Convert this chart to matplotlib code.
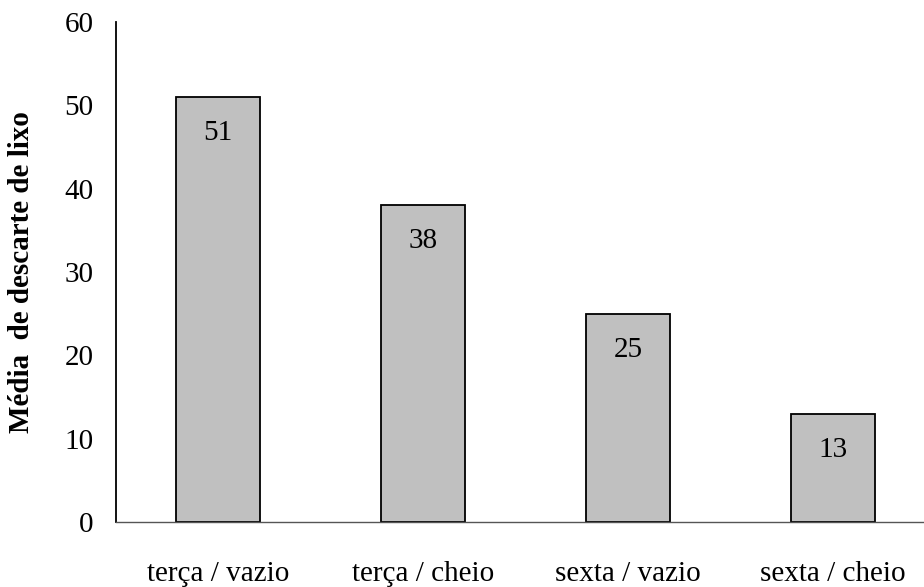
import matplotlib
matplotlib.use("Agg")
import matplotlib.pyplot as plt

categories = ["terça / vazio", "terça / cheio", "sexta / vazio", "sexta / cheio"]
values = [51, 38, 25, 13]
yticks = [0, 10, 20, 30, 40, 50, 60]

plt.rcParams["font.family"] = ["Liberation Serif", "DejaVu Serif"]

fig = plt.figure(figsize=(9.24, 5.87), dpi=100)
ax = fig.add_axes([115.5 / 924, (587 - 522) / 587, 820 / 924, 500 / 587])

x = list(range(len(categories)))
ax.bar(x, values, width=0.41, color="#c0c0c0", edgecolor="black", linewidth=1.3, zorder=2)

for xi, v in zip(x, values):
    ax.annotate(str(v), (xi, v), xytext=(0, -26), textcoords="offset points",
                ha="center", va="center", fontsize=21, color="black")

ax.set_xlim(-0.5, 3.5)
ax.set_ylim(0, 60)
ax.set_yticks(yticks)
ax.set_yticklabels([str(t) for t in yticks], fontsize=21)
ax.set_xticks(x)
ax.set_xticklabels(categories, fontsize=21)
ax.tick_params(axis="both", length=0)
ax.tick_params(axis="y", pad=16)
ax.tick_params(axis="x", pad=28)

for side in ("top", "right"):
    ax.spines[side].set_visible(False)
ax.spines["left"].set_linewidth(1.3)
ax.spines["bottom"].set_linewidth(1.0)
ax.spines["bottom"].set_color("#555555")

ax.set_ylabel("Média  de descarte de lixo", fontsize=21, fontweight="bold")
ax.yaxis.set_label_coords(-0.098, 0.5)

fig.savefig("out.png", dpi=100)
